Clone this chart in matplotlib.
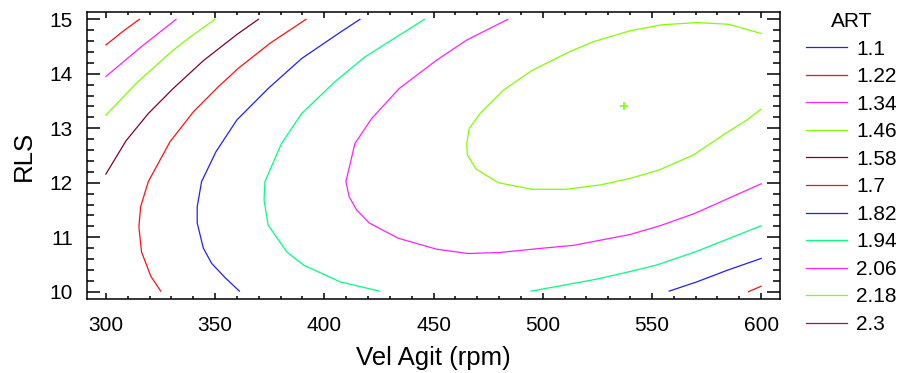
import matplotlib.pyplot as plt
from matplotlib.lines import Line2D
from matplotlib.ticker import MultipleLocator

plt.rcParams['font.family'] = ['Liberation Sans', 'DejaVu Sans']

# contour levels of ART and their colours
art_levels = [1.1, 1.22, 1.34, 1.46, 1.58, 1.7, 1.82, 1.94, 2.06, 2.18, 2.3]
level_colors = ['#2020ff', '#ff1010', '#ff20ff', '#80ff00', '#800030', '#ff1010',
                '#2020ff', '#00ff80', '#ff20ff', '#80ff00', '#a01060']

# traced contour lines (Vel Agit, RLS)
x_122 = [300.0, 307.5, 315.3]
y_122 = [14.53, 14.77, 15.0]
x_134 = [300.0, 316.0, 332.1]
y_134 = [13.95, 14.49, 15.0]
x_146 = [300.0, 314.0, 330.1, 337.7, 349.9]
y_146 = [13.24, 13.83, 14.41, 14.65, 15.0]
x_158 = [300.0, 309.2, 319.4, 330.8, 344.6, 359.9, 369.8]
y_158 = [12.16, 12.77, 13.27, 13.73, 14.24, 14.72, 15.0]
x_170a = [325.1, 320.6, 316.3, 315.1, 315.9, 319.4, 329.3, 340.0, 351.4, 360.6, 375.1, 391.6]
y_170a = [10.01, 10.28, 10.73, 11.19, 11.56, 12.02, 12.75, 13.30, 13.76, 14.10, 14.56, 15.0]
x_170b = [594.2, 600.0]
y_170b = [10.0, 10.10]
x_182a = [361.1, 354.5, 348.4, 344.6, 341.8, 341.8, 343.8, 350.4, 359.9, 374.3, 389.6, 407.2, 416.3]
y_182a = [10.01, 10.26, 10.52, 10.80, 11.26, 11.56, 12.02, 12.57, 13.15, 13.73, 14.28, 14.76, 15.0]
x_182b = [557.9, 570.6, 584.3, 600.0]
y_182b = [10.01, 10.18, 10.39, 10.61]
x_194a = [425.2, 407.2, 390.4, 382.8, 374.3, 372.4, 372.8, 380.4, 389.6, 405.0, 418.6, 445.8]
y_194a = [10.01, 10.18, 10.49, 10.73, 11.22, 11.68, 12.02, 12.72, 13.27, 13.86, 14.31, 15.0]
x_194b = [494.7, 512.5, 524.7, 540.0, 552.2, 569.8, 584.3, 600.0]
y_194b = [10.01, 10.14, 10.23, 10.37, 10.49, 10.73, 10.96, 11.21]
x_206 = [484.0, 465.2, 451.4, 434.3, 421.7, 414.0, 409.9, 411.4, 414.8, 420.6, 433.9, 451.4,
         465.9, 480.5, 500.3, 514.0, 540.0, 553.7, 569.8, 584.3, 600.0]
y_206 = [15.0, 14.62, 14.25, 13.73, 13.18, 12.72, 12.02, 11.74, 11.50, 11.26, 10.98, 10.78,
         10.70, 10.72, 10.80, 10.85, 11.05, 11.21, 11.44, 11.70, 11.98]
x_218 = [600.0, 585.0, 570.6, 554.5, 540.0, 523.2, 512.5, 495.0, 482.0, 471.3, 466.4, 465.2,
         465.5, 469.5, 479.7, 495.0, 510.3, 526.3, 540.0, 553.0, 569.0, 582.7, 593.4, 600.0]
y_218 = [14.74, 14.91, 14.94, 14.90, 14.79, 14.59, 14.41, 14.06, 13.70, 13.27, 13.0, 12.72,
         12.51, 12.25, 12.0, 11.88, 11.88, 11.96, 12.08, 12.23, 12.51, 12.88, 13.15, 13.35]

# optimum
opt_x = [537.4]
opt_y = [13.40]

segments = [
    (1.22, x_122, y_122), (1.34, x_134, y_134), (1.46, x_146, y_146), (1.58, x_158, y_158),
    (1.7, x_170a, y_170a), (1.7, x_170b, y_170b), (1.82, x_182a, y_182a), (1.82, x_182b, y_182b),
    (1.94, x_194a, y_194a), (1.94, x_194b, y_194b), (2.06, x_206, y_206), (2.18, x_218, y_218),
]
color_of = dict(zip(art_levels, level_colors))

fig = plt.figure(figsize=(9.05, 3.73), dpi=100)
ax = fig.add_axes([0.0958, 0.1976, 0.862 - 0.0958, 0.9686 - 0.1976])

for lev, xs, ys in segments:
    ax.plot(xs, ys, color=color_of[lev], lw=0.9)
ax.plot(opt_x, opt_y, marker='+', color=color_of[2.18], ms=6, mew=1.2, ls='none')

ax.set_xlim(291.2, 608.7)
ax.set_ylim(9.86, 15.14)
ax.xaxis.set_major_locator(MultipleLocator(50))
ax.xaxis.set_minor_locator(MultipleLocator(10))
ax.yaxis.set_major_locator(MultipleLocator(1))
ax.yaxis.set_minor_locator(MultipleLocator(0.2))
ax.tick_params(axis='both', which='both', direction='in', top=True, right=True,
               width=1.1, labelsize=15)
ax.tick_params(axis='x', which='major', length=4, pad=12)
ax.tick_params(axis='x', which='minor', length=2.5)
ax.tick_params(axis='y', which='major', length=9.5, pad=10)
ax.tick_params(axis='y', which='minor', length=5)
for s in ax.spines.values():
    s.set_linewidth(1.1)

ax.set_xlabel('Vel Agit (rpm)', fontsize=18.5, labelpad=8)
ax.set_ylabel('RLS', fontsize=18.5, labelpad=10)

handles = [Line2D([], [], color=c, lw=0.9) for c in level_colors]
labels = [f'{v:g}' for v in art_levels]
leg = fig.legend(handles, labels, title='ART', loc='upper left',
                 bbox_to_anchor=(806 / 905, 1 - 12 / 373), frameon=False,
                 fontsize=15, title_fontsize=15, borderpad=0, borderaxespad=0,
                 handlelength=1.95, handletextpad=0.45, labelspacing=0.41)

fig.savefig('out.png', dpi=100)
